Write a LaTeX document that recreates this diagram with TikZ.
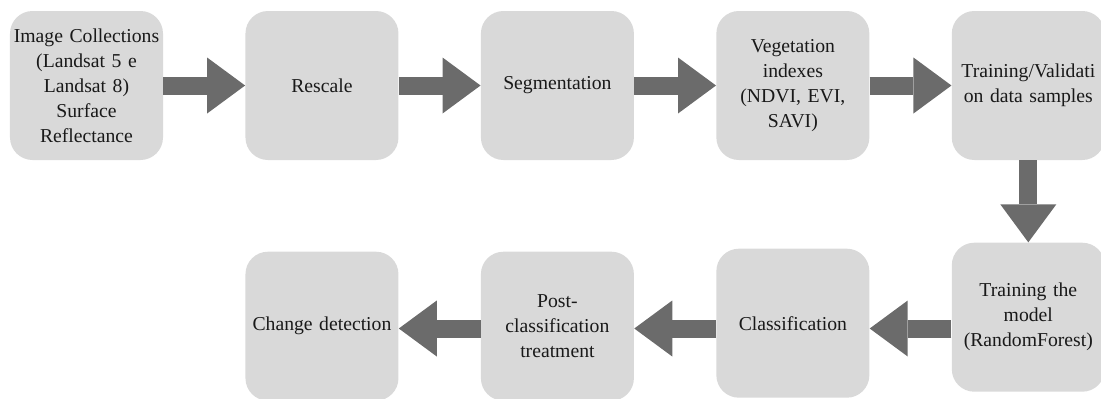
\documentclass[tikz,border=0pt]{standalone}
\usepackage{fontspec}
\setmainfont{Liberation Serif}
\usetikzlibrary{positioning,arrows.meta}
\definecolor{boxgray}{HTML}{D9D9D9}
\definecolor{arrowgray}{HTML}{6B6B6B}
\begin{document}
\begin{tikzpicture}[
    stage/.style={rectangle, rounded corners=0.45cm, fill=boxgray, minimum width=3.06cm, minimum height=2.98cm,
      text width=3.06cm, align=center, inner sep=0pt, font=\fontsize{11.2}{14.2}\selectfont, text=black!90},
    flow/.style={draw=arrowgray, line width=0.36cm, -{Triangle[length=0.76cm,width=1.12cm,line width=0pt]}}
  ]
  \useasboundingbox (0,0) rectangle (22.02,-7.96);
  \node[stage] (img) at (1.73,-1.71) {Image Collections\\(Landsat 5 e\\Landsat 8)\\Surface\\Reflectance};
  \node[stage, right=1.635cm of img] (res) {Rescale};
  \node[stage, right=1.635cm of res] (seg) {Segmentation};
  \node[stage, right=1.635cm of seg] (veg) {Vegetation\\indexes\\(NDVI, EVI,\\SAVI)};
  \node[stage, right=1.635cm of veg] (tv) {Training/Validati\\on data samples};
  \node[stage, below=1.64cm of tv] (tm) {Training the\\model\\(RandomForest)};
  \node[stage, left=1.635cm of tm, yshift=-0.12cm] (cls) {Classification};
  \node[stage, left=1.635cm of cls, yshift=-0.06cm] (post) {Post-\\classification\\treatment};
  \node[stage, left=1.635cm of post] (chg) {Change detection};
  \coordinate (low) at (0,-6.57);
  \draw[flow] (img) -- (res);
  \draw[flow] (res) -- (seg);
  \draw[flow] (seg) -- (veg);
  \draw[flow] (veg) -- (tv);
  \draw[flow] (tv) -- (tm);
  \draw[flow] (tm.west |- low) -- (cls.east |- low);
  \draw[flow] (cls.west |- low) -- (post.east |- low);
  \draw[flow] (post.west |- low) -- (chg.east |- low);
\end{tikzpicture}
\end{document}
